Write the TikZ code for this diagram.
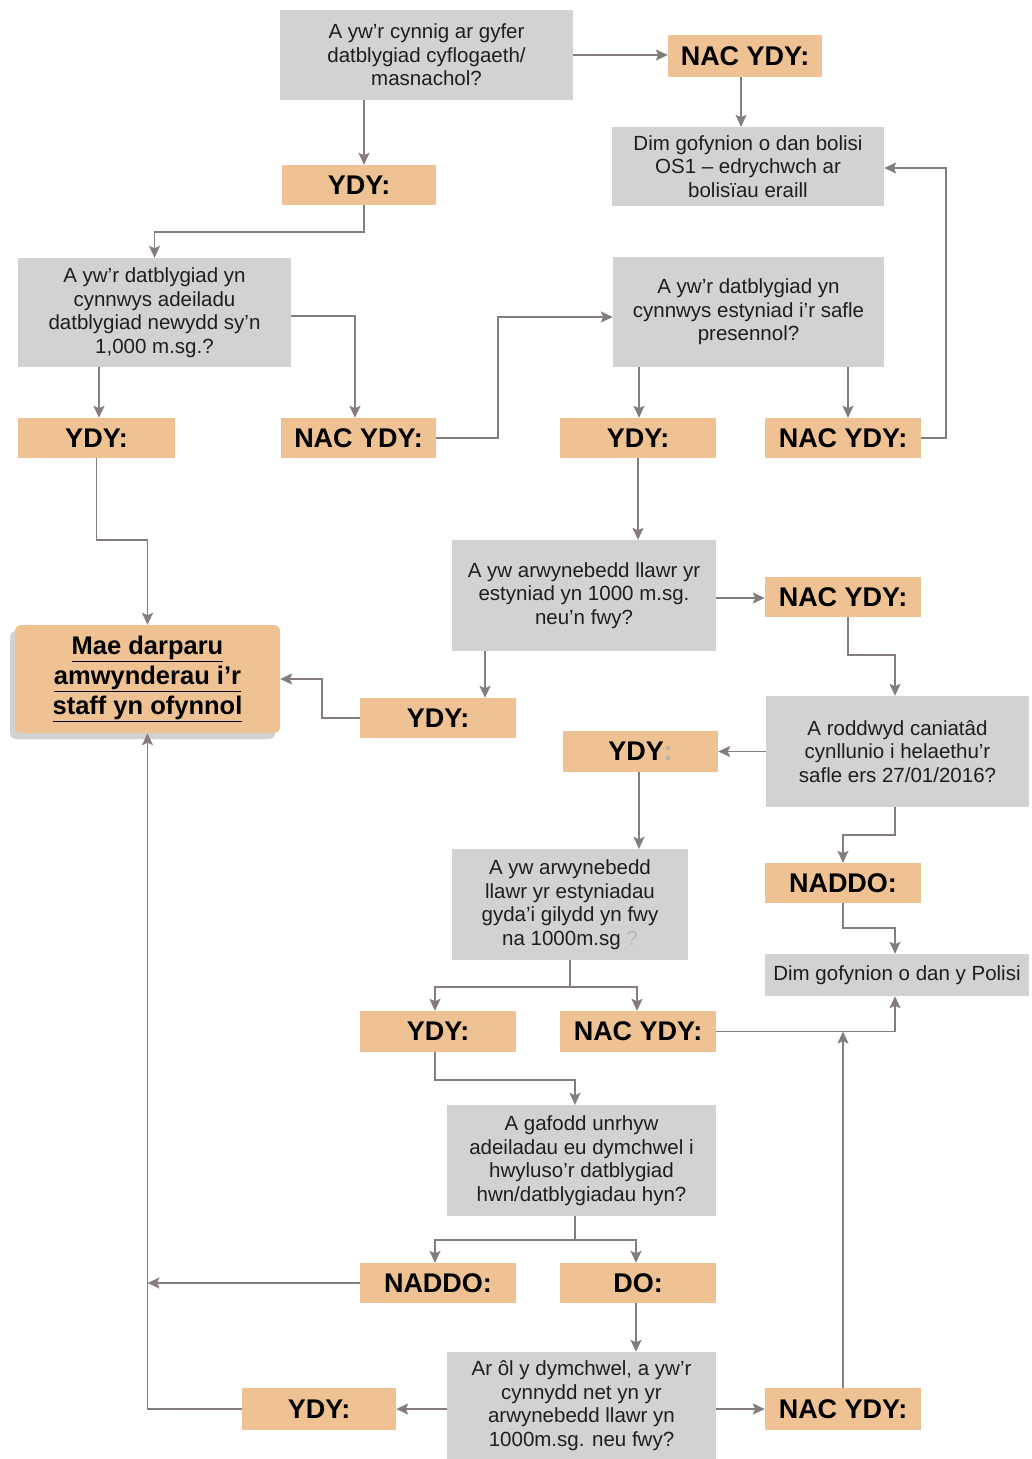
\documentclass[tikz,border=0pt]{standalone}
\usepackage{fontspec}
\setmainfont{Liberation Sans}
\usetikzlibrary{arrows.meta,shadows,calc}
\definecolor{qgray}{HTML}{D2D2D2}
\definecolor{aorange}{HTML}{EFC293}
\definecolor{lcol}{HTML}{857C7C}
\definecolor{tcol}{HTML}{1E1E1E}
\tikzset{
  qbox/.style={fill=qgray, draw=none, align=center, text=tcol, inner sep=2pt,
    font=\fontsize{20.5}{23.5}\selectfont},
  abox/.style={fill=aorange, draw=none, align=center, text=black, inner sep=2pt,
    minimum height=40pt, font=\fontsize{27}{30}\selectfont\bfseries},
  arr/.style={draw=lcol, line width=1.7pt, -{Stealth[length=12pt,width=11pt,inset=2.5pt]}},
  ln/.style={draw=lcol, line width=1.7pt},
}
\begin{document}
\begin{tikzpicture}[x=1pt,y=-1pt]
\useasboundingbox[fill=white] (0,0) rectangle (1031,1459);

% question boxes
\node[qbox, minimum width=293pt, minimum height=90pt] (q1) at (426.5,55) {A yw’r cynnig ar gyfer\\datblygiad cyflogaeth/\\masnachol?};
\node[qbox, minimum width=272pt, minimum height=79pt] (d1) at (748,166.5) {Dim gofynion o dan bolisi\\OS1 – edrychwch ar\\bolisïau eraill};
\node[qbox, minimum width=273pt, minimum height=109pt] (q2) at (154.5,312.5) {A yw’r datblygiad yn\\cynnwys adeiladu\\datblygiad newydd sy’n\\1,000 m.sg.?};
\node[qbox, minimum width=271pt, minimum height=110pt] (q3) at (748.5,312) {A yw’r datblygiad yn\\cynnwys estyniad i’r safle\\presennol?};
\node[qbox, minimum width=264pt, minimum height=111pt] (q4) at (584,595.5) {A yw arwynebedd llawr yr\\estyniad yn 1000 m.sg.\\neu’n fwy?};
\node[qbox, minimum width=263pt, minimum height=111pt] (q5) at (897.5,751.5) {A roddwyd caniatâd\\cynllunio i helaethu’r\\safle ers 27/01/2016?};
\node[qbox, minimum width=236pt, minimum height=111pt] (q6) at (570,904.5) {A yw arwynebedd\\llawr yr estyniadau\\gyda’i gilydd yn fwy\\na 1000m.sg {\color{gray!55}?}};
\node[qbox, minimum width=264pt, minimum height=42pt] (d2) at (897,975) {Dim gofynion o dan y Polisi};
\node[qbox, minimum width=269pt, minimum height=111pt] (q7) at (581.5,1160.5) {A gafodd unrhyw\\adeiladau eu dymchwel i\\hwyluso’r datblygiad\\hwn/datblygiadau hyn?};
\node[qbox, minimum width=269pt, minimum height=107pt] (q8) at (581.5,1405.5) {Ar ôl y dymchwel, a yw’r\\cynnydd net yn yr\\arwynebedd llawr yn\\1000m.sg. neu fwy?};

% answer boxes
\node[abox, minimum width=154pt, minimum height=42pt] (n1) at (745,56) {NAC YDY:};
\node[abox, minimum width=154pt] (y1) at (359,185) {YDY:};
\node[abox, minimum width=157pt] (y2) at (96.5,438) {YDY:};
\node[abox, minimum width=155pt] (n2) at (358.5,438) {NAC YDY:};
\node[abox, minimum width=156pt] (y3) at (638,438) {YDY:};
\node[abox, minimum width=156pt] (n3) at (843,438) {NAC YDY:};
\node[abox, minimum width=156pt] (n4) at (843,597) {NAC YDY:};
\node[abox, minimum width=156pt] (y4) at (438,718) {YDY:};
\node[abox, minimum width=155pt, minimum height=41pt] (y5) at (640.5,751.5) {YDY\textcolor{gray!60}{:}};
\node[abox, minimum width=156pt] (nd1) at (843,883) {NADDO:};
\node[abox, minimum width=156pt, minimum height=41pt] (y6) at (438,1031.5) {YDY:};
\node[abox, minimum width=156pt, minimum height=41pt] (n5) at (638,1031.5) {NAC YDY:};
\node[abox, minimum width=156pt] (nd2) at (438,1283) {NADDO:};
\node[abox, minimum width=156pt] (do) at (638,1283) {DO:};
\node[abox, minimum width=154pt, minimum height=42pt] (y7) at (319,1409) {YDY:};
\node[abox, minimum width=156pt, minimum height=42pt] (n6) at (843,1409) {NAC YDY:};

% main result
\node[fill=aorange, rounded corners=6pt, minimum width=265pt, minimum height=108pt,
  align=center, text=black, font=\fontsize{25.5}{30}\selectfont\bfseries,
  drop shadow={shadow xshift=-5pt, shadow yshift=-6pt, opacity=0.35, fill=gray}]
  (mae) at (147.5,679) {\underline{Mae darparu}\\\underline{amwynderau i’r}\\\underline{staff yn ofynnol}};

% connectors
\draw[arr] (q1.east) -- (q1.east -| n1.west);
\draw[arr] ([xshift=-4pt]n1.south) -- ([xshift=-4pt]n1.south |- d1.north);
\draw[arr] ([xshift=-62.5pt]q1.south) -- ([xshift=-62.5pt]q1.south |- y1.north);
\draw[arr] ([xshift=5pt]y1.south) -- ++(0,27) -| (q2.north);
\draw[arr] ([yshift=-3.5pt]q2.east) -| ([xshift=-3.5pt]n2.north);
\draw[arr] ([xshift=-55.5pt]q2.south) -- ([xshift=-55.5pt]q2.south |- y2.north);
\draw[arr] (n2.east) -- ++(62,0) |- ([yshift=-5pt]q3.west);
\draw[arr] ([xshift=-109.5pt]q3.south) -- ([xshift=-109.5pt]q3.south |- y3.north);
\draw[arr] ([xshift=99.5pt]q3.south) -- ([xshift=99.5pt]q3.south |- n3.north);
\draw[arr] (n3.east) -- ++(25,0) |- ([yshift=-1.5pt]d1.east);
\draw[arr] (y3.south) -- (y3.south |- q4.north);
\draw[arr] (y2.south) -- ++(0,82) -| (mae.north);
\draw[arr] ([yshift=-2.5pt]q4.east) -- ([yshift=-2.5pt]q4.east -| n4.west);
\draw[arr] ([xshift=-99pt]q4.south) -- ([xshift=-99pt]q4.south |- y4.north);
\draw[arr] (y4.west) -- ++(-38,0) |- (mae.east);
\draw[arr] ([xshift=5pt]n4.south) -- ++(0,38) -| ([xshift=-2.5pt]q5.north);
\draw[arr] (q5.west) -- (q5.west -| y5.east);
\draw[arr] ([xshift=-1.5pt]y5.south) -- ([xshift=-1.5pt]y5.south |- q6.north);
\draw[arr] ([xshift=-2.5pt]q5.south) -- ++(0,28) -| (nd1.north);
\draw[arr] (nd1.south) -- ++(0,25) -| ([xshift=-2pt]d2.north);
\draw[ln] (q6.south) -- ++(0,27) coordinate (j1);
\draw[arr] (j1) -| ([xshift=-3pt]y6.north);
\draw[arr] (j1) -| ([xshift=-1pt]n5.north);
\draw[arr] (n5.east) -| ([xshift=-2pt]d2.south);
\draw[arr] ([xshift=-3pt]y6.south) -- ++(0,28) -| ([xshift=-6.5pt]q7.north);
\draw[ln] ([xshift=-6.5pt]q7.south) -- ++(0,24) coordinate (j2);
\draw[arr] (j2) -| ([xshift=-3pt]nd2.north);
\draw[arr] (j2) -| ([xshift=-2pt]do.north);
\draw[arr] (nd2.west) -- (nd2.west -| mae.south);
\draw[arr] ([xshift=-2pt]do.south) -- ([xshift=-2pt]do.south |- q8.north);
\draw[arr] (y7.east -| q8.west) -- (y7.east);
\draw[arr] (y7.west) -| (mae.south);
\draw[arr] (n6.west -| q8.east) -- (n6.west);
\draw[arr] (n6.north) -- (n6.north |- n5.east);
\end{tikzpicture}
\end{document}
